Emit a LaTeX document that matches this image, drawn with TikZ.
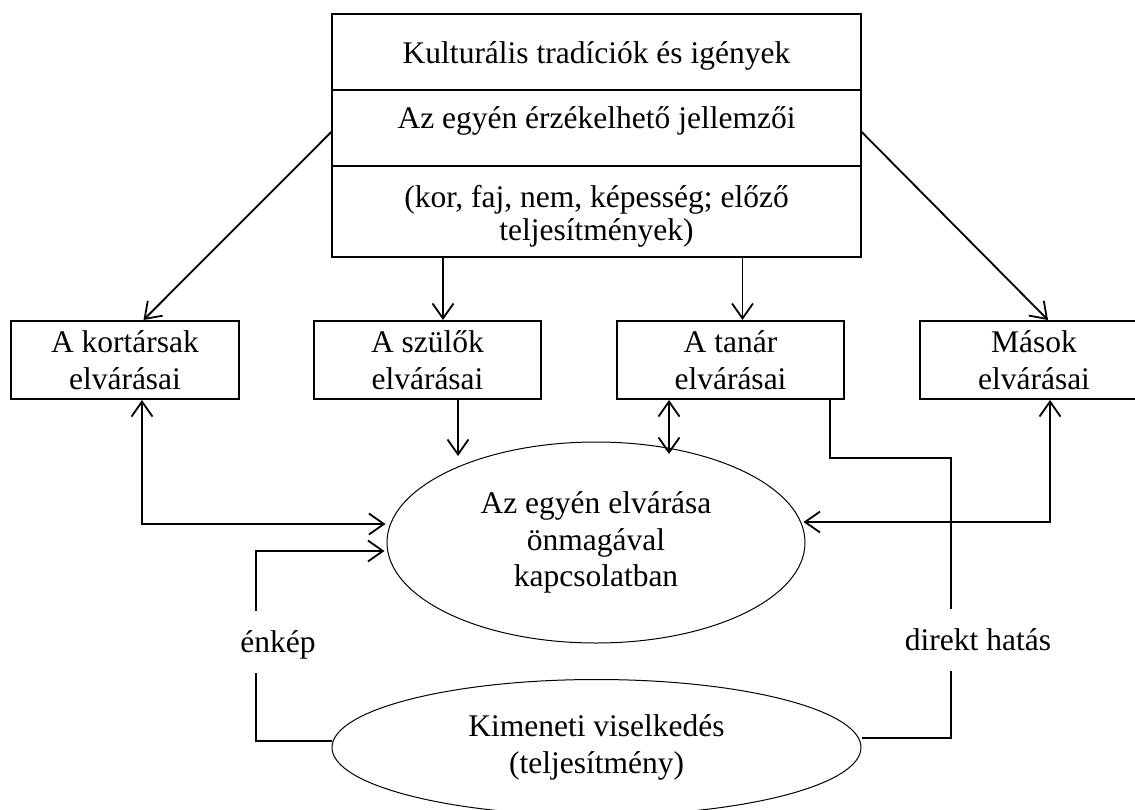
\documentclass[tikz,border=0pt]{standalone}
\usepackage{fontspec}
\setmainfont{Liberation Serif}
\usetikzlibrary{arrows.meta,shapes.geometric}
\tikzset{
  txt/.style={font=\fontsize{31.5}{36.5}\selectfont, align=center, inner sep=0pt},
  cell/.style={draw, line width=1.5pt, rectangle, inner sep=0pt, minimum width=529pt},
  smallbox/.style={txt, draw, line width=2pt, rectangle, minimum height=78pt},
  oval/.style={txt, draw, line width=1pt, ellipse, inner sep=0pt},
  conn/.style={line width=1.8pt},
  tip/.style={-{Straight Barb[length=15pt,width=21pt]}},
  tips/.style={{Straight Barb[length=15pt,width=21pt]}-{Straight Barb[length=15pt,width=21pt]}}
}
\begin{document}
\begin{tikzpicture}[x=1pt,y=-1pt]
\useasboundingbox (0,0) rectangle (1135,809);
\clip (0,0) rectangle (1135,809);

% top box, three rows
\node[cell, minimum height=76pt] (r1) at (596.5,52) {};
\node[cell, minimum height=76pt] (r2) at (596.5,128) {};
\node[cell, minimum height=91pt] (r3) at (596.5,211.5) {};
\node[txt, anchor=base] (t1) at (596.5,63) {Kulturális tradíciók és igények};
\node[txt, anchor=base] (t2) at (596.5,128) {Az egyén érzékelhető jellemzői};
\node[txt, font=\fontsize{31.5}{33}\selectfont] (t3) at (596.5,216) {(kor, faj, nem, képesség; előző\\teljesítmények)};

% expectation boxes
\node[smallbox, minimum width=228pt] (kort) at (125,360) {A kortársak\\elvárásai};
\node[smallbox, minimum width=227pt] (szul) at (427.5,360) {A szülők\\elvárásai};
\node[smallbox, minimum width=227pt] (tanar) at (730.5,360) {A tanár\\elvárásai};
\node[smallbox, minimum width=228pt] (masok) at (1034,360) {Mások\\elvárásai};

% ellipses
\node[oval, minimum width=418pt, minimum height=201pt] (e1) at (596,542.5) {Az egyén elvárása\\önmagával\\kapcsolatban};
\node[oval, minimum width=529pt, minimum height=136pt] (e2) at (596.5,747.5) {Kimeneti viselkedés\\(teljesítmény)};

% side labels
\node[txt, anchor=base] (enk) at (278,652) {énkép};
\node[txt, anchor=base] (dir) at (978,650) {direkt hatás};

% arrows from the top box
\draw[conn,tip] ([yshift=-4pt]r2.west) -- ([xshift=18.5pt]kort.north);
\draw[conn,tip] ([yshift=-4pt]r2.east) -- ([xshift=14pt]masok.north);
\draw[conn,tip] ([xshift=15.5pt]szul.north |- r3.south) -- ([xshift=15.5pt]szul.north);
\draw[conn,tip] ([xshift=12pt]tanar.north |- r3.south) -- ([xshift=12pt]tanar.north);

% boxes to the self-expectation ellipse
\draw[conn,tip] ([xshift=30.5pt]szul.south) -- ++(0,56);
\draw[conn,tips] ([xshift=-61.5pt]tanar.south) -- ++(0,54);
\draw[conn,tips] ([xshift=17pt]kort.south) |- ([xshift=-1pt,yshift=18.5pt]e1.west);
\draw[conn,tips] ([xshift=16pt]masok.south) |- ([xshift=-2pt,yshift=20.5pt]e1.east);

% self-image loop
\coordinate (lb) at (256,673);
\coordinate (lt) at (256,611);
\draw[conn] ([yshift=6.5pt]e2.west) -| (lb);
\draw[conn,tip] (lt) |- ([xshift=-2pt,yshift=-8.5pt]e1.west);

% direct effect
\coordinate (dt) at (951,609);
\coordinate (db) at (951,671);
\draw[conn] ([xshift=99.5pt]tanar.south) -- ++(0,58) -| (dt);
\draw[conn] (db) |- ([yshift=9.5pt]e2.east);
\end{tikzpicture}
\end{document}
